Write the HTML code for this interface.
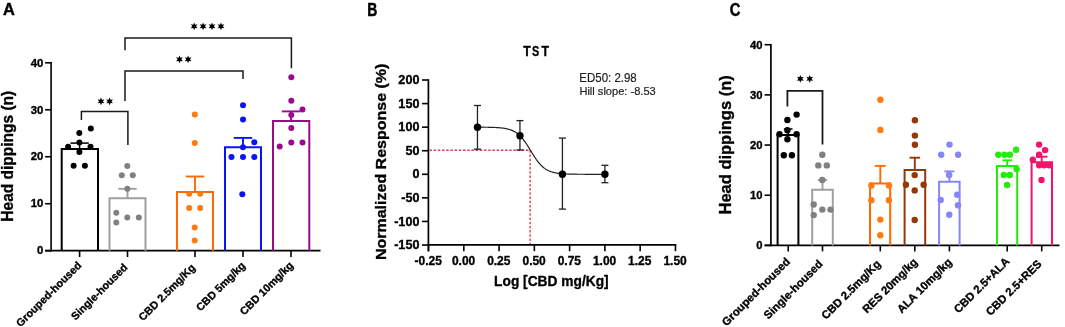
<!DOCTYPE html>
<html><head><meta charset="utf-8"><style>
html,body{margin:0;padding:0;background:#fff;}
svg{display:block;font-family:"Liberation Sans", sans-serif;font-kerning:none;will-change:transform;}
text[font-weight="bold"]{stroke:#000;stroke-width:0.35px;stroke-linejoin:round;}
text.lbl{stroke-width:0.45px;}
text[font-weight="normal"]{stroke:#1e1e1e;stroke-width:0.2px;}
</style></head><body>
<svg width="1065" height="327" viewBox="0 0 1065 327">
<text transform="translate(3.09,15.30) scale(0.9559,1)" font-size="17.15" font-weight="bold" fill="#000" class="lbl">A</text>
<line x1="51.10" y1="62.05" x2="51.10" y2="251.45" stroke="#000" stroke-width="1.6" />
<line x1="45.10" y1="250.70" x2="51.10" y2="250.70" stroke="#000" stroke-width="1.6" />
<text transform="translate(36.96,254.44) scale(1.0427,1)" font-size="10.88" font-weight="bold" fill="#000">0</text>
<line x1="45.10" y1="203.72" x2="51.10" y2="203.72" stroke="#000" stroke-width="1.6" />
<text transform="translate(30.65,207.47) scale(1.0427,1)" font-size="10.88" font-weight="bold" fill="#000">10</text>
<line x1="45.10" y1="156.75" x2="51.10" y2="156.75" stroke="#000" stroke-width="1.6" />
<text transform="translate(30.65,160.49) scale(1.0427,1)" font-size="10.88" font-weight="bold" fill="#000">20</text>
<line x1="45.10" y1="109.78" x2="51.10" y2="109.78" stroke="#000" stroke-width="1.6" />
<text transform="translate(30.65,113.50) scale(1.0449,1)" font-size="10.85" font-weight="bold" fill="#000">30</text>
<line x1="45.10" y1="62.80" x2="51.10" y2="62.80" stroke="#000" stroke-width="1.6" />
<text transform="translate(30.65,66.54) scale(1.0427,1)" font-size="10.88" font-weight="bold" fill="#000">40</text>
<line x1="45.10" y1="250.70" x2="320.50" y2="250.70" stroke="#000" stroke-width="1.8" />
<path d="M61.7,250.7 V149 H98 V250.7" fill="none" stroke="#000" stroke-width="2"/>
<path d="M109.5,250.7 V198.3 H145.5 V250.7" fill="none" stroke="#a0a0a0" stroke-width="2"/>
<path d="M177,250.7 V191.9 H213 V250.7" fill="none" stroke="#ff6a00" stroke-width="2"/>
<path d="M225,250.7 V147.2 H261 V250.7" fill="none" stroke="#0814f5" stroke-width="2"/>
<path d="M273,250.7 V121 H309.3 V250.7" fill="none" stroke="#990a8c" stroke-width="2"/>
<line x1="79.60" y1="149.00" x2="79.60" y2="143.10" stroke="#000" stroke-width="1.5" />
<line x1="70.40" y1="143.10" x2="88.80" y2="143.10" stroke="#000" stroke-width="1.5" />
<line x1="127.50" y1="198.30" x2="127.50" y2="188.80" stroke="#a0a0a0" stroke-width="1.9" />
<line x1="118.30" y1="188.80" x2="136.70" y2="188.80" stroke="#a0a0a0" stroke-width="1.9" />
<line x1="195.00" y1="191.90" x2="195.00" y2="176.50" stroke="#ff6a00" stroke-width="1.9" />
<line x1="185.70" y1="176.50" x2="204.30" y2="176.50" stroke="#ff6a00" stroke-width="1.9" />
<line x1="243.00" y1="147.20" x2="243.00" y2="137.90" stroke="#0814f5" stroke-width="1.9" />
<line x1="233.80" y1="137.90" x2="252.20" y2="137.90" stroke="#0814f5" stroke-width="1.9" />
<line x1="291.00" y1="121.00" x2="291.00" y2="111.40" stroke="#990a8c" stroke-width="1.9" />
<line x1="281.80" y1="111.40" x2="300.20" y2="111.40" stroke="#990a8c" stroke-width="1.9" />
<circle cx="90.80" cy="128.40" r="3.0" fill="#000"/>
<circle cx="79.30" cy="133.10" r="3.0" fill="#000"/>
<circle cx="79.40" cy="142.40" r="3.0" fill="#000"/>
<circle cx="68.10" cy="146.70" r="3.0" fill="#000"/>
<circle cx="90.50" cy="146.70" r="3.0" fill="#000"/>
<circle cx="79.40" cy="151.90" r="3.0" fill="#000"/>
<circle cx="73.60" cy="165.70" r="3.0" fill="#000"/>
<circle cx="84.90" cy="165.70" r="3.0" fill="#000"/>
<circle cx="127.30" cy="166.10" r="3.0" fill="#808080"/>
<circle cx="121.80" cy="175.30" r="3.0" fill="#808080"/>
<circle cx="132.80" cy="175.30" r="3.0" fill="#808080"/>
<circle cx="127.30" cy="188.80" r="3.0" fill="#808080"/>
<circle cx="116.30" cy="212.80" r="3.0" fill="#808080"/>
<circle cx="116.30" cy="222.50" r="3.0" fill="#808080"/>
<circle cx="127.30" cy="217.50" r="3.0" fill="#808080"/>
<circle cx="138.80" cy="217.50" r="3.0" fill="#808080"/>
<circle cx="194.80" cy="114.40" r="3.0" fill="#ff7a10"/>
<circle cx="194.80" cy="142.90" r="3.0" fill="#ff7a10"/>
<circle cx="189.20" cy="193.80" r="3.0" fill="#ff7a10"/>
<circle cx="200.20" cy="193.80" r="3.0" fill="#ff7a10"/>
<circle cx="189.20" cy="208.10" r="3.0" fill="#ff7a10"/>
<circle cx="200.20" cy="208.10" r="3.0" fill="#ff7a10"/>
<circle cx="194.70" cy="227.40" r="3.0" fill="#ff7a10"/>
<circle cx="194.70" cy="240.50" r="3.0" fill="#ff7a10"/>
<circle cx="243.00" cy="105.30" r="3.0" fill="#0814f5"/>
<circle cx="243.00" cy="119.50" r="3.0" fill="#0814f5"/>
<circle cx="254.30" cy="142.30" r="3.0" fill="#0814f5"/>
<circle cx="243.00" cy="147.20" r="3.0" fill="#0814f5"/>
<circle cx="231.50" cy="157.00" r="3.0" fill="#0814f5"/>
<circle cx="243.00" cy="157.00" r="3.0" fill="#0814f5"/>
<circle cx="254.30" cy="157.00" r="3.0" fill="#0814f5"/>
<circle cx="242.30" cy="194.20" r="3.0" fill="#0814f5"/>
<circle cx="291.30" cy="77.30" r="3.0" fill="#990a8c"/>
<circle cx="291.30" cy="100.70" r="3.0" fill="#990a8c"/>
<circle cx="302.50" cy="109.50" r="3.0" fill="#990a8c"/>
<circle cx="291.30" cy="115.00" r="3.0" fill="#990a8c"/>
<circle cx="291.30" cy="128.10" r="3.0" fill="#990a8c"/>
<circle cx="279.70" cy="146.50" r="3.0" fill="#990a8c"/>
<circle cx="291.30" cy="142.40" r="3.0" fill="#990a8c"/>
<circle cx="302.50" cy="142.40" r="3.0" fill="#990a8c"/>
<line x1="79.60" y1="250.70" x2="79.60" y2="257.00" stroke="#000" stroke-width="1.6" />
<line x1="127.50" y1="250.70" x2="127.50" y2="257.00" stroke="#000" stroke-width="1.6" />
<line x1="195.00" y1="250.70" x2="195.00" y2="257.00" stroke="#000" stroke-width="1.6" />
<line x1="243.00" y1="250.70" x2="243.00" y2="257.00" stroke="#000" stroke-width="1.6" />
<line x1="291.00" y1="250.70" x2="291.00" y2="257.00" stroke="#000" stroke-width="1.6" />
<path d="M81.4,120 V111.5 H127.9 V145" fill="none" stroke="#1a1a1a" stroke-width="1.5"/>
<polygon points="101.00,97.50 101.95,99.75 104.38,99.45 102.90,101.40 104.38,103.35 101.95,103.05 101.00,105.30 100.05,103.05 97.62,103.35 99.10,101.40 97.62,99.45 100.05,99.75" fill="#000"/>
<polygon points="109.60,97.50 110.55,99.75 112.98,99.45 111.50,101.40 112.98,103.35 110.55,103.05 109.60,105.30 108.65,103.05 106.22,103.35 107.70,101.40 106.22,99.45 108.65,99.75" fill="#000"/>
<path d="M125,101 V71 H243 V79" fill="none" stroke="#1a1a1a" stroke-width="1.5"/>
<polygon points="179.50,55.40 180.45,57.65 182.88,57.35 181.40,59.30 182.88,61.25 180.45,60.95 179.50,63.20 178.55,60.95 176.12,61.25 177.60,59.30 176.12,57.35 178.55,57.65" fill="#000"/>
<polygon points="188.10,55.40 189.05,57.65 191.48,57.35 190.00,59.30 191.48,61.25 189.05,60.95 188.10,63.20 187.15,60.95 184.72,61.25 186.20,59.30 184.72,57.35 187.15,57.65" fill="#000"/>
<path d="M125,50.3 V37.9 H291.4 V68.2" fill="none" stroke="#1a1a1a" stroke-width="1.5"/>
<polygon points="194.16,22.40 195.10,24.65 197.53,24.35 196.06,26.30 197.53,28.25 195.10,27.95 194.16,30.20 193.21,27.95 190.78,28.25 192.25,26.30 190.78,24.35 193.21,24.65" fill="#000"/>
<polygon points="203.09,22.40 204.03,24.65 206.46,24.35 204.99,26.30 206.46,28.25 204.03,27.95 203.09,30.20 202.14,27.95 199.71,28.25 201.19,26.30 199.71,24.35 202.14,24.65" fill="#000"/>
<polygon points="212.01,22.40 212.96,24.65 215.39,24.35 213.91,26.30 215.39,28.25 212.96,27.95 212.01,30.20 211.06,27.95 208.64,28.25 210.11,26.30 208.64,24.35 211.06,24.65" fill="#000"/>
<polygon points="220.94,22.40 221.89,24.65 224.32,24.35 222.84,26.30 224.32,28.25 221.89,27.95 220.94,30.20 220.00,27.95 217.57,28.25 219.04,26.30 217.57,24.35 220.00,24.65" fill="#000"/>
<text transform="translate(12.80,221.64) rotate(-90) scale(0.9876,1)" font-size="15.70" font-weight="bold" fill="#000">Head dippings (n)</text>
<text transform="translate(82.10,266.00) rotate(-45) scale(1.0000,1)" font-size="10.80" font-weight="bold" text-anchor="end">Grouped-housed</text>
<text transform="translate(128.10,268.10) rotate(-45) scale(1.0000,1)" font-size="10.80" font-weight="bold" text-anchor="end">Single-housed</text>
<text transform="translate(196.00,268.40) rotate(-45) scale(1.0000,1)" font-size="10.80" font-weight="bold" text-anchor="end">CBD 2.5mg/Kg</text>
<text transform="translate(246.00,266.30) rotate(-45) scale(1.0000,1)" font-size="10.80" font-weight="bold" text-anchor="end">CBD 5mg/kg</text>
<text transform="translate(293.90,266.00) rotate(-45) scale(1.0000,1)" font-size="10.80" font-weight="bold" text-anchor="end">CBD 10mg/kg</text>
<text transform="translate(367.17,15.50) scale(0.7991,1)" font-size="17.44" font-weight="bold" fill="#000" class="lbl">B</text>
<line x1="428.40" y1="79.26" x2="428.40" y2="251.40" stroke="#000" stroke-width="1.7" />
<line x1="422.00" y1="245.01" x2="428.40" y2="245.01" stroke="#000" stroke-width="1.6" />
<text transform="translate(394.17,249.10) scale(1.0632,1)" font-size="11.86" font-weight="bold" fill="#000">-150</text>
<line x1="422.00" y1="221.44" x2="428.40" y2="221.44" stroke="#000" stroke-width="1.6" />
<text transform="translate(394.17,225.53) scale(1.0632,1)" font-size="11.86" font-weight="bold" fill="#000">-100</text>
<line x1="422.00" y1="197.87" x2="428.40" y2="197.87" stroke="#000" stroke-width="1.6" />
<text transform="translate(401.19,201.96) scale(1.0632,1)" font-size="11.86" font-weight="bold" fill="#000">-50</text>
<line x1="422.00" y1="174.30" x2="428.40" y2="174.30" stroke="#000" stroke-width="1.6" />
<text transform="translate(412.40,178.38) scale(1.0632,1)" font-size="11.86" font-weight="bold" fill="#000">0</text>
<line x1="422.00" y1="150.73" x2="428.40" y2="150.73" stroke="#000" stroke-width="1.6" />
<text transform="translate(405.39,154.81) scale(1.0632,1)" font-size="11.86" font-weight="bold" fill="#000">50</text>
<line x1="422.00" y1="127.16" x2="428.40" y2="127.16" stroke="#000" stroke-width="1.6" />
<text transform="translate(398.37,131.24) scale(1.0632,1)" font-size="11.86" font-weight="bold" fill="#000">100</text>
<line x1="422.00" y1="103.59" x2="428.40" y2="103.59" stroke="#000" stroke-width="1.6" />
<text transform="translate(398.37,107.67) scale(1.0632,1)" font-size="11.86" font-weight="bold" fill="#000">150</text>
<line x1="422.00" y1="80.01" x2="428.40" y2="80.01" stroke="#000" stroke-width="1.6" />
<text transform="translate(398.37,84.10) scale(1.0632,1)" font-size="11.86" font-weight="bold" fill="#000">200</text>
<line x1="427.60" y1="244.90" x2="676.30" y2="244.90" stroke="#000" stroke-width="1.7" />
<line x1="428.53" y1="244.90" x2="428.53" y2="251.20" stroke="#000" stroke-width="1.6" />
<text transform="translate(414.58,264.88) scale(1.0114,1)" font-size="11.86" font-weight="bold" fill="#000">-0.25</text>
<line x1="463.80" y1="244.90" x2="463.80" y2="251.20" stroke="#000" stroke-width="1.6" />
<text transform="translate(451.93,264.88) scale(1.0114,1)" font-size="11.86" font-weight="bold" fill="#000">0.00</text>
<line x1="499.07" y1="244.90" x2="499.07" y2="251.20" stroke="#000" stroke-width="1.6" />
<text transform="translate(487.13,264.88) scale(1.0114,1)" font-size="11.86" font-weight="bold" fill="#000">0.25</text>
<line x1="534.35" y1="244.90" x2="534.35" y2="251.20" stroke="#000" stroke-width="1.6" />
<text transform="translate(522.48,264.88) scale(1.0114,1)" font-size="11.86" font-weight="bold" fill="#000">0.50</text>
<line x1="569.62" y1="244.90" x2="569.62" y2="251.20" stroke="#000" stroke-width="1.6" />
<text transform="translate(557.68,264.88) scale(1.0114,1)" font-size="11.86" font-weight="bold" fill="#000">0.75</text>
<line x1="604.90" y1="244.90" x2="604.90" y2="251.20" stroke="#000" stroke-width="1.6" />
<text transform="translate(592.89,264.88) scale(1.0114,1)" font-size="11.86" font-weight="bold" fill="#000">1.00</text>
<line x1="640.17" y1="244.90" x2="640.17" y2="251.20" stroke="#000" stroke-width="1.6" />
<text transform="translate(628.09,264.88) scale(1.0114,1)" font-size="11.86" font-weight="bold" fill="#000">1.25</text>
<line x1="675.45" y1="244.90" x2="675.45" y2="251.20" stroke="#000" stroke-width="1.6" />
<text transform="translate(663.44,264.88) scale(1.0114,1)" font-size="11.86" font-weight="bold" fill="#000">1.50</text>
<text transform="translate(494.08,285.80) scale(0.9369,1)" font-size="14.68" font-weight="bold" fill="#000">Log [CBD mg/Kg]</text>
<text transform="translate(523.16,55.60) scale(0.8329,1)" font-size="14.68" font-weight="bold" fill="#000">T</text>
<text transform="translate(532.09,55.65) scale(0.7247,1)" font-size="14.97" font-weight="bold" fill="#000">S</text>
<text transform="translate(541.46,55.60) scale(0.8329,1)" font-size="14.68" font-weight="bold" fill="#000">T</text>
<text transform="translate(579.36,82.40) scale(0.9516,1)" font-size="12.06" font-weight="normal" fill="#1e1e1e">ED50: 2.98</text>
<text transform="translate(579.39,95.00) scale(0.9777,1)" font-size="11.34" font-weight="normal" fill="#1e1e1e">Hill slope: -8.53</text>
<text transform="translate(385.90,260.07) rotate(-90) scale(1.0298,1)" font-size="15.55" font-weight="bold" fill="#000">Normalized Response (%)</text>
<path d="M429.40,150.23 H530.11 V243.90" fill="none" stroke="#d84050" stroke-width="1.4" stroke-dasharray="2.5,1.7"/>
<polyline points="477.47,127.19 478.04,127.19 478.60,127.19 479.17,127.19 479.73,127.20 480.30,127.20 480.86,127.20 481.42,127.21 481.99,127.21 482.55,127.21 483.12,127.22 483.68,127.22 484.25,127.23 484.81,127.24 485.38,127.24 485.94,127.25 486.50,127.26 487.07,127.27 487.63,127.27 488.20,127.28 488.76,127.29 489.33,127.31 489.89,127.32 490.46,127.33 491.02,127.34 491.58,127.36 492.15,127.38 492.71,127.39 493.28,127.41 493.84,127.43 494.41,127.46 494.97,127.48 495.53,127.51 496.10,127.54 496.66,127.57 497.23,127.60 497.79,127.63 498.36,127.67 498.92,127.71 499.49,127.76 500.05,127.81 500.61,127.86 501.18,127.92 501.74,127.98 502.31,128.04 502.87,128.12 503.44,128.19 504.00,128.27 504.57,128.36 505.13,128.46 505.69,128.56 506.26,128.67 506.82,128.79 507.39,128.92 507.95,129.06 508.52,129.21 509.08,129.37 509.64,129.54 510.21,129.73 510.77,129.92 511.34,130.13 511.90,130.36 512.47,130.60 513.03,130.86 513.60,131.14 514.16,131.44 514.72,131.75 515.29,132.09 515.85,132.45 516.42,132.83 516.98,133.23 517.55,133.66 518.11,134.11 518.68,134.59 519.24,135.10 519.80,135.63 520.37,136.19 520.93,136.78 521.50,137.39 522.06,138.04 522.63,138.71 523.19,139.41 523.75,140.13 524.32,140.88 524.88,141.66 525.45,142.46 526.01,143.28 526.58,144.13 527.14,144.99 527.71,145.87 528.27,146.76 528.83,147.67 529.40,148.58 529.96,149.50 530.53,150.43 531.09,151.35 531.66,152.28 532.22,153.19 532.79,154.11 533.35,155.01 533.91,155.90 534.48,156.77 535.04,157.63 535.61,158.46 536.17,159.28 536.74,160.07 537.30,160.84 537.86,161.58 538.43,162.30 538.99,162.99 539.56,163.65 540.12,164.28 540.69,164.89 541.25,165.47 541.82,166.02 542.38,166.54 542.94,167.04 543.51,167.50 544.07,167.95 544.64,168.37 545.20,168.76 545.77,169.14 546.33,169.49 546.90,169.82 547.46,170.12 548.02,170.41 548.59,170.69 549.15,170.94 549.72,171.18 550.28,171.40 550.85,171.60 551.41,171.80 551.97,171.98 552.54,172.14 553.10,172.30 553.67,172.45 554.23,172.58 554.80,172.71 555.36,172.82 555.93,172.93 556.49,173.03 557.05,173.13 557.62,173.21 558.18,173.29 558.75,173.37 559.31,173.44 559.88,173.50 560.44,173.56 561.01,173.61 561.57,173.67 562.13,173.71 562.70,173.76 563.26,173.80 563.83,173.84 564.39,173.87 564.96,173.90 565.52,173.93 566.08,173.96 566.65,173.99 567.21,174.01 567.78,174.03 568.34,174.05 568.91,174.07 569.47,174.09 570.04,174.10 570.60,174.12 571.16,174.13 571.73,174.14 572.29,174.16 572.86,174.17 573.42,174.18 573.99,174.19 574.55,174.19 575.12,174.20 575.68,174.21 576.24,174.22 576.81,174.22 577.37,174.23 577.94,174.23 578.50,174.24 579.07,174.24 579.63,174.25 580.19,174.25 580.76,174.26 581.32,174.26 581.89,174.26 582.45,174.26 583.02,174.27 583.58,174.27 584.15,174.27 584.71,174.27 585.27,174.28 585.84,174.28 586.40,174.28 586.97,174.28 587.53,174.28 588.10,174.28 588.66,174.29 589.23,174.29 589.79,174.29 590.35,174.29 590.92,174.29 591.48,174.29 592.05,174.29 592.61,174.29 593.18,174.29 593.74,174.29 594.30,174.29 594.87,174.29 595.43,174.29 596.00,174.29 596.56,174.30 597.13,174.30 597.69,174.30 598.26,174.30 598.82,174.30 599.38,174.30 599.95,174.30 600.51,174.30 601.08,174.30 601.64,174.30 602.21,174.30 602.77,174.30 603.34,174.30 603.90,174.30 604.46,174.30" fill="none" stroke="#222" stroke-width="1.2"/>
<line x1="477.47" y1="105.50" x2="477.47" y2="149.20" stroke="#222" stroke-width="1.3" />
<line x1="473.97" y1="105.50" x2="480.97" y2="105.50" stroke="#222" stroke-width="1.3" />
<line x1="473.97" y1="149.20" x2="480.97" y2="149.20" stroke="#222" stroke-width="1.3" />
<circle cx="477.47" cy="127.20" r="3.7" fill="#000"/>
<line x1="519.95" y1="120.60" x2="519.95" y2="150.00" stroke="#222" stroke-width="1.3" />
<line x1="516.45" y1="120.60" x2="523.45" y2="120.60" stroke="#222" stroke-width="1.3" />
<line x1="516.45" y1="150.00" x2="523.45" y2="150.00" stroke="#222" stroke-width="1.3" />
<circle cx="519.95" cy="135.70" r="3.7" fill="#000"/>
<line x1="562.42" y1="138.10" x2="562.42" y2="209.10" stroke="#222" stroke-width="1.3" />
<line x1="558.92" y1="138.10" x2="565.92" y2="138.10" stroke="#222" stroke-width="1.3" />
<line x1="558.92" y1="209.10" x2="565.92" y2="209.10" stroke="#222" stroke-width="1.3" />
<circle cx="562.42" cy="174.20" r="3.7" fill="#000"/>
<line x1="604.90" y1="165.30" x2="604.90" y2="182.70" stroke="#222" stroke-width="1.3" />
<line x1="601.40" y1="165.30" x2="608.40" y2="165.30" stroke="#222" stroke-width="1.3" />
<line x1="601.40" y1="182.70" x2="608.40" y2="182.70" stroke="#222" stroke-width="1.3" />
<circle cx="604.90" cy="174.20" r="3.7" fill="#000"/>
<text transform="translate(729.69,15.53) scale(0.8337,1)" font-size="17.80" font-weight="bold" fill="#000" class="lbl">C</text>
<line x1="770.90" y1="43.95" x2="770.90" y2="246.15" stroke="#000" stroke-width="1.7" />
<line x1="764.60" y1="245.40" x2="770.90" y2="245.40" stroke="#000" stroke-width="1.6" />
<text transform="translate(756.18,249.29) scale(1.0001,1)" font-size="11.30" font-weight="bold" fill="#000">0</text>
<line x1="764.60" y1="195.23" x2="770.90" y2="195.23" stroke="#000" stroke-width="1.6" />
<text transform="translate(749.89,199.11) scale(1.0001,1)" font-size="11.30" font-weight="bold" fill="#000">10</text>
<line x1="764.60" y1="145.05" x2="770.90" y2="145.05" stroke="#000" stroke-width="1.6" />
<text transform="translate(749.89,148.94) scale(1.0001,1)" font-size="11.30" font-weight="bold" fill="#000">20</text>
<line x1="764.60" y1="94.88" x2="770.90" y2="94.88" stroke="#000" stroke-width="1.6" />
<text transform="translate(749.89,98.75) scale(1.0021,1)" font-size="11.28" font-weight="bold" fill="#000">30</text>
<line x1="764.60" y1="44.70" x2="770.90" y2="44.70" stroke="#000" stroke-width="1.6" />
<text transform="translate(749.89,48.59) scale(1.0001,1)" font-size="11.30" font-weight="bold" fill="#000">40</text>
<line x1="764.60" y1="245.40" x2="1059.50" y2="245.40" stroke="#000" stroke-width="1.6" />
<path d="M777.6,245.4 V135 H798.4 V245.4" fill="none" stroke="#000" stroke-width="2"/>
<path d="M812.2,245.4 V189.8 H832.8 V245.4" fill="none" stroke="#a0a0a0" stroke-width="2"/>
<path d="M870,245.4 V183.6 H890.2 V245.4" fill="none" stroke="#ff6a00" stroke-width="2"/>
<path d="M904.6,245.4 V170 H925.2 V245.4" fill="none" stroke="#943808" stroke-width="2"/>
<path d="M939.1,245.4 V181.8 H959.6 V245.4" fill="none" stroke="#8686f8" stroke-width="2"/>
<path d="M997,245.4 V165.9 H1017.2 V245.4" fill="none" stroke="#22ee08" stroke-width="2"/>
<path d="M1031.6,245.4 V162.2 H1052 V245.4" fill="none" stroke="#f0146e" stroke-width="2"/>
<line x1="788.20" y1="135.00" x2="788.20" y2="129.00" stroke="#000" stroke-width="1.5" />
<line x1="783.90" y1="129.00" x2="792.50" y2="129.00" stroke="#000" stroke-width="1.5" />
<line x1="822.50" y1="189.80" x2="822.50" y2="180.00" stroke="#a0a0a0" stroke-width="1.9" />
<line x1="817.80" y1="180.00" x2="827.20" y2="180.00" stroke="#a0a0a0" stroke-width="1.9" />
<line x1="880.30" y1="183.60" x2="880.30" y2="165.90" stroke="#ff6a00" stroke-width="1.9" />
<line x1="874.90" y1="165.90" x2="885.70" y2="165.90" stroke="#ff6a00" stroke-width="1.9" />
<line x1="914.80" y1="170.00" x2="914.80" y2="157.70" stroke="#943808" stroke-width="1.9" />
<line x1="909.50" y1="157.70" x2="920.10" y2="157.70" stroke="#943808" stroke-width="1.9" />
<line x1="949.40" y1="181.80" x2="949.40" y2="171.40" stroke="#8686f8" stroke-width="1.9" />
<line x1="944.40" y1="171.40" x2="954.40" y2="171.40" stroke="#8686f8" stroke-width="1.9" />
<line x1="1007.20" y1="165.90" x2="1007.20" y2="160.30" stroke="#22ee08" stroke-width="1.9" />
<line x1="1002.40" y1="160.30" x2="1012.00" y2="160.30" stroke="#22ee08" stroke-width="1.9" />
<line x1="1041.70" y1="162.20" x2="1041.70" y2="156.70" stroke="#f0146e" stroke-width="1.9" />
<line x1="1035.90" y1="156.70" x2="1047.50" y2="156.70" stroke="#f0146e" stroke-width="1.9" />
<circle cx="796.60" cy="114.60" r="3.2" fill="#000"/>
<circle cx="787.40" cy="120.00" r="3.2" fill="#000"/>
<circle cx="787.40" cy="130.30" r="3.2" fill="#000"/>
<circle cx="779.50" cy="134.30" r="3.2" fill="#000"/>
<circle cx="796.60" cy="134.30" r="3.2" fill="#000"/>
<circle cx="787.40" cy="139.30" r="3.2" fill="#000"/>
<circle cx="783.80" cy="155.30" r="3.2" fill="#000"/>
<circle cx="791.90" cy="155.30" r="3.2" fill="#000"/>
<circle cx="822.30" cy="154.80" r="3.2" fill="#808080"/>
<circle cx="818.30" cy="165.40" r="3.2" fill="#808080"/>
<circle cx="826.80" cy="165.40" r="3.2" fill="#808080"/>
<circle cx="822.30" cy="180.00" r="3.2" fill="#808080"/>
<circle cx="813.70" cy="204.50" r="3.2" fill="#808080"/>
<circle cx="813.70" cy="215.10" r="3.2" fill="#808080"/>
<circle cx="822.30" cy="209.60" r="3.2" fill="#808080"/>
<circle cx="830.50" cy="209.60" r="3.2" fill="#808080"/>
<circle cx="880.40" cy="99.80" r="3.2" fill="#ff7a10"/>
<circle cx="880.40" cy="129.90" r="3.2" fill="#ff7a10"/>
<circle cx="871.40" cy="185.50" r="3.2" fill="#ff7a10"/>
<circle cx="888.90" cy="185.50" r="3.2" fill="#ff7a10"/>
<circle cx="871.40" cy="200.30" r="3.2" fill="#ff7a10"/>
<circle cx="888.90" cy="200.30" r="3.2" fill="#ff7a10"/>
<circle cx="880.30" cy="219.60" r="3.2" fill="#ff7a10"/>
<circle cx="880.30" cy="235.20" r="3.2" fill="#ff7a10"/>
<circle cx="914.90" cy="120.20" r="3.2" fill="#943808"/>
<circle cx="914.90" cy="135.60" r="3.2" fill="#943808"/>
<circle cx="914.90" cy="144.70" r="3.2" fill="#943808"/>
<circle cx="914.70" cy="175.10" r="3.2" fill="#943808"/>
<circle cx="905.90" cy="184.80" r="3.2" fill="#943808"/>
<circle cx="923.60" cy="184.80" r="3.2" fill="#943808"/>
<circle cx="914.70" cy="190.40" r="3.2" fill="#943808"/>
<circle cx="914.70" cy="220.00" r="3.2" fill="#943808"/>
<circle cx="949.50" cy="144.60" r="3.2" fill="#8686f8"/>
<circle cx="941.20" cy="154.80" r="3.2" fill="#8686f8"/>
<circle cx="958.10" cy="154.80" r="3.2" fill="#8686f8"/>
<circle cx="949.10" cy="175.00" r="3.2" fill="#8686f8"/>
<circle cx="957.20" cy="194.70" r="3.2" fill="#8686f8"/>
<circle cx="940.70" cy="200.00" r="3.2" fill="#8686f8"/>
<circle cx="958.00" cy="205.20" r="3.2" fill="#8686f8"/>
<circle cx="949.30" cy="214.80" r="3.2" fill="#8686f8"/>
<circle cx="1016.10" cy="149.70" r="3.2" fill="#22ee08"/>
<circle cx="998.30" cy="154.80" r="3.2" fill="#22ee08"/>
<circle cx="1004.30" cy="154.80" r="3.2" fill="#22ee08"/>
<circle cx="1009.80" cy="154.80" r="3.2" fill="#22ee08"/>
<circle cx="1016.60" cy="169.00" r="3.2" fill="#22ee08"/>
<circle cx="1003.80" cy="175.00" r="3.2" fill="#22ee08"/>
<circle cx="1009.80" cy="175.00" r="3.2" fill="#22ee08"/>
<circle cx="1007.10" cy="185.00" r="3.2" fill="#22ee08"/>
<circle cx="1039.10" cy="144.60" r="3.2" fill="#f0146e"/>
<circle cx="1045.10" cy="150.10" r="3.2" fill="#f0146e"/>
<circle cx="1039.10" cy="154.80" r="3.2" fill="#f0146e"/>
<circle cx="1032.80" cy="159.80" r="3.2" fill="#f0146e"/>
<circle cx="1039.20" cy="165.20" r="3.2" fill="#f0146e"/>
<circle cx="1044.20" cy="165.20" r="3.2" fill="#f0146e"/>
<circle cx="1049.20" cy="165.20" r="3.2" fill="#f0146e"/>
<circle cx="1041.50" cy="180.00" r="3.2" fill="#f0146e"/>
<line x1="788.20" y1="245.40" x2="788.20" y2="251.40" stroke="#000" stroke-width="1.6" />
<line x1="822.50" y1="245.40" x2="822.50" y2="251.40" stroke="#000" stroke-width="1.6" />
<line x1="880.30" y1="245.40" x2="880.30" y2="251.40" stroke="#000" stroke-width="1.6" />
<line x1="914.80" y1="245.40" x2="914.80" y2="251.40" stroke="#000" stroke-width="1.6" />
<line x1="949.40" y1="245.40" x2="949.40" y2="251.40" stroke="#000" stroke-width="1.6" />
<line x1="1007.20" y1="245.40" x2="1007.20" y2="251.40" stroke="#000" stroke-width="1.6" />
<line x1="1041.70" y1="245.40" x2="1041.70" y2="251.40" stroke="#000" stroke-width="1.6" />
<path d="M787.4,106.5 V90.8 H822.5 V144.6" fill="none" stroke="#1a1a1a" stroke-width="1.8"/>
<polygon points="800.30,74.90 801.25,77.15 803.68,76.85 802.20,78.80 803.68,80.75 801.25,80.45 800.30,82.70 799.35,80.45 796.92,80.75 798.40,78.80 796.92,76.85 799.35,77.15" fill="#000"/>
<polygon points="809.70,74.90 810.65,77.15 813.08,76.85 811.60,78.80 813.08,80.75 810.65,80.45 809.70,82.70 808.75,80.45 806.32,80.75 807.80,78.80 806.32,76.85 808.75,77.15" fill="#000"/>
<text transform="translate(731.00,214.50) rotate(-90) scale(0.9620,1)" font-size="17.15" font-weight="bold" fill="#000">Head dippings (n)</text>
<text transform="translate(790.90,262.30) rotate(-45) scale(1.0000,1)" font-size="11.30" font-weight="bold" text-anchor="end">Grouped-housed</text>
<text transform="translate(823.40,264.70) rotate(-45) scale(1.0000,1)" font-size="11.30" font-weight="bold" text-anchor="end">Single-housed</text>
<text transform="translate(881.40,264.60) rotate(-45) scale(1.0000,1)" font-size="11.30" font-weight="bold" text-anchor="end">CBD 2.5mg/Kg</text>
<text transform="translate(918.10,262.80) rotate(-45) scale(1.0000,1)" font-size="11.30" font-weight="bold" text-anchor="end">RES 20mg/kg</text>
<text transform="translate(952.70,262.80) rotate(-45) scale(1.0000,1)" font-size="11.30" font-weight="bold" text-anchor="end">ALA 10mg/kg</text>
<text transform="translate(1010.20,262.00) rotate(-45) scale(1.0000,1)" font-size="11.30" font-weight="bold" text-anchor="end">CBD 2.5+ALA</text>
<text transform="translate(1042.30,264.60) rotate(-45) scale(1.0000,1)" font-size="11.30" font-weight="bold" text-anchor="end">CBD 2.5+RES</text>
</svg>
</body></html>
